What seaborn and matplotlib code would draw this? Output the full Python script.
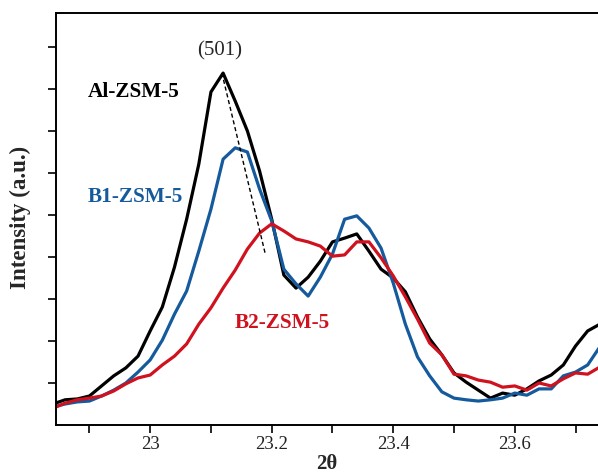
import numpy as np
import pandas as pd
import matplotlib
matplotlib.use("Agg")
import matplotlib.pyplot as plt
import seaborn as sns
from matplotlib.ticker import MultipleLocator

# 2-theta scan (degrees)
two_theta = [22.84 + 0.02 * i for i in range(46)]

al_zsm5 = [0.50, 0.60, 0.62, 0.69, 0.93, 1.17, 1.36, 1.64, 2.24, 2.81,
           3.76, 4.90, 6.21, 7.93, 8.38, 7.71, 7.00, 6.05, 4.90, 3.57,
           3.26, 3.52, 3.90, 4.36, 4.45, 4.55, 4.14, 3.71, 3.50, 3.17,
           2.57, 2.05, 1.67, 1.24, 1.02, 0.83, 0.64, 0.76, 0.71, 0.86,
           1.05, 1.19, 1.43, 1.88, 2.24, 2.40]

b1_zsm5 = [0.43, 0.50, 0.55, 0.57, 0.69, 0.83, 1.00, 1.26, 1.55, 2.02,
           2.64, 3.19, 4.14, 5.14, 6.33, 6.60, 6.50, 5.62, 4.86, 3.71,
           3.36, 3.07, 3.52, 4.07, 4.90, 4.98, 4.69, 4.21, 3.38, 2.40,
           1.62, 1.17, 0.79, 0.64, 0.60, 0.57, 0.60, 0.64, 0.76, 0.71,
           0.86, 0.86, 1.17, 1.26, 1.43, 1.86]

b2_zsm5 = [0.40, 0.52, 0.60, 0.64, 0.69, 0.81, 0.98, 1.12, 1.19, 1.43,
           1.64, 1.93, 2.40, 2.79, 3.26, 3.69, 4.19, 4.57, 4.79, 4.62,
           4.43, 4.36, 4.26, 4.02, 4.05, 4.36, 4.36, 3.98, 3.55, 3.05,
           2.52, 1.95, 1.67, 1.21, 1.17, 1.07, 1.02, 0.90, 0.93, 0.83,
           1.00, 0.93, 1.10, 1.24, 1.21, 1.38]

# (501) peak shift guide: from Al-ZSM-5 maximum down the peak flank
guide_x = [23.118, 23.189]
guide_y = [8.38, 4.10]

samples = ["Al-ZSM-5", "B1-ZSM-5", "B2-ZSM-5"]
colors = {"Al-ZSM-5": "#000000", "B1-ZSM-5": "#155a9c", "B2-ZSM-5": "#d0111e"}

df = pd.DataFrame({
    "two_theta": two_theta * 3,
    "intensity": al_zsm5 + b1_zsm5 + b2_zsm5,
    "sample": np.repeat(samples, len(two_theta)),
})

sns.set_style("ticks")
plt.rcParams["font.family"] = ["Liberation Serif", "DejaVu Serif"]

fig = plt.figure(figsize=(5.98, 4.77), dpi=100)
ax = fig.add_axes([56 / 598, 51 / 477, 542 / 598, 412 / 477])

sns.lineplot(data=df, x="two_theta", y="intensity", hue="sample",
             hue_order=samples, palette=colors, linewidth=2.3,
             legend=False, ax=ax, sort=False)

ax.plot(guide_x, guide_y, color="black", linestyle=(0, (3, 2)), linewidth=1.0)

ax.set_xlim(22.845, 23.737)
ax.set_ylim(0, 9.81)
ax.xaxis.set_minor_locator(MultipleLocator(0.1))
ax.set_xticks([23.0, 23.2, 23.4, 23.6])
ax.set_xticklabels(["23", "23.2", "23.4", "23.6"])
ax.set_yticks(range(1, 10))
ax.set_yticklabels([])

ax.tick_params(axis="both", which="both", direction="out", length=6, width=1.2,
               color="black", labelsize=13.5, labelcolor="#222222")
ax.tick_params(axis="x", which="both", pad=1.5)

for side in ["left", "bottom", "top"]:
    ax.spines[side].set_linewidth(1.4)
    ax.spines[side].set_color("black")
ax.spines["right"].set_visible(False)

ax.set_xlabel("2θ", fontsize=15, fontweight="bold", va="center")
ax.set_ylabel("Intensity (a.u.)", fontsize=16.5, fontweight="bold")
ax.xaxis.set_label_coords(0.5, -0.092)
ax.yaxis.set_label_coords(-0.046, 0.507)

ax.text(23.114, 8.93, "(501)", fontsize=15, ha="center", va="center")
ax.text(22.8976, 7.95, "Al-ZSM-5", fontsize=15.3, fontweight="bold",
        color=colors["Al-ZSM-5"], ha="left", va="center")
ax.text(22.8976, 5.45, "B1-ZSM-5", fontsize=15.3, fontweight="bold",
        color=colors["B1-ZSM-5"], ha="left", va="center")
ax.text(23.139, 2.45, "B2-ZSM-5", fontsize=15.3, fontweight="bold",
        color=colors["B2-ZSM-5"], ha="left", va="center")

fig.savefig("out.png", dpi=100)
